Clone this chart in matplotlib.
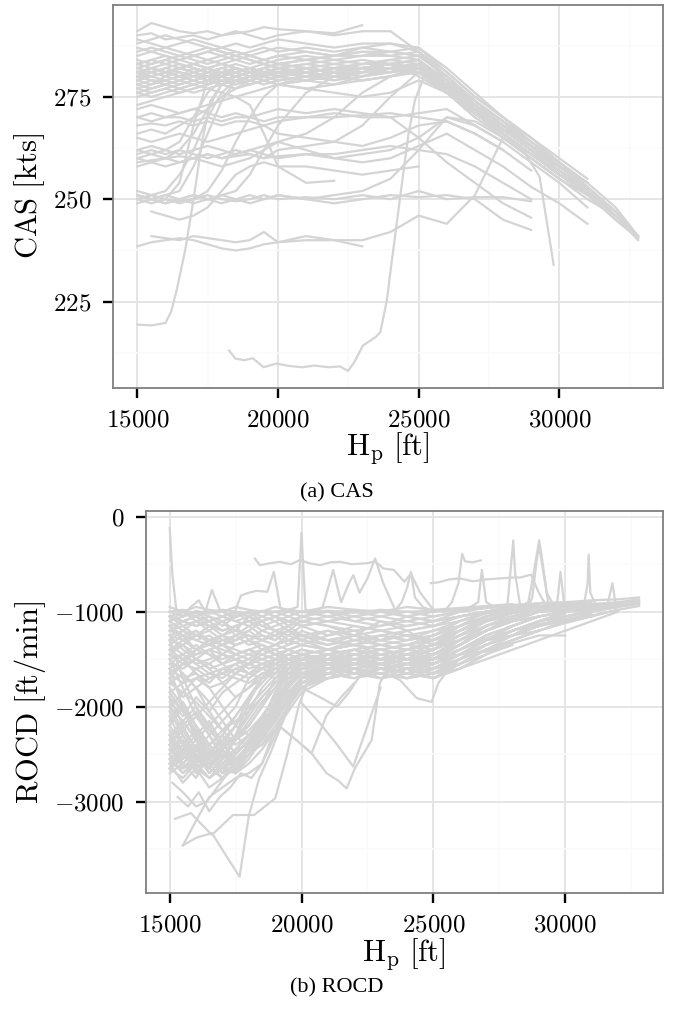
import numpy as np
import matplotlib
matplotlib.use('Agg')
import matplotlib.pyplot as plt
from matplotlib.ticker import FixedLocator, FuncFormatter

plt.rcParams['mathtext.fontset'] = 'cm'
plt.rcParams['font.family'] = ['Liberation Serif', 'DejaVu Serif']

n = np.nan

# altitude grid shared by most trajectories [ft]
HP_GRID = [15000, 15500, 16000, 16500, 17000, 17500, 18000, 18500, 19000, 19500,
           20000, 21000, 22000, 23000, 24000, 25000, 26000, 27000, 28000, 29000,
           30000, 31000, 32000, 32800]

# ---- CAS [kts] on HP_GRID ----
CAS_BAND = [
    [279, 280, 281, 280, 279, 280, 281, 280, 279, 280, 281, 280, 279, 281, 282, 281, 277, 271, 266, 261, 256, 251, 245, 240.5],
    [281, 282, 281, 282, 283, 282, 281, 282, 281, 282, 283, 282, 283, 284, 283, 282, 276, 270, 265, 260, 255, 250, 246, 241],
    [278, 279, 279, 278, 279, 280, 279, 278, 280, 279, 278, 279, 280, 281, 281, 283, 278, 272, 267, 262, 257, 252],
    [280, 281, 280, 279, 281, 282, 280, 281, 282, 281, 280, 281, 282, 282, 283, 280, 276, 271, 265, 260, 255, 251],
    [283, 284, 283, 284, 285, 284, 283, 284, 285, 284, 283, 284, 285, 285, 285, 284, 278, 273, 268, 262, 257, 253],
    [277, 278, 279, 280, 279, 278, 280, 279, 278, 279, 280, 279, 278, 280, 281, 282, 279, 273, 267, 262, 256, 252.5],
    [279, 278, 280, 281, 280, 279, 281, 280, 279, 281, 280, 279, 281, 282, 282, 283, 277, 272, 266, 261, 256],
    [282, 281, 282, 283, 282, 281, 282, 283, 282, 281, 282, 283, 282, 281, 282, 281, 277, 272, 267, 262, 258],
    [276, 277, 278, 277, 278, 279, 278, 277, 278, 279, 278, 277, 278, 279, 280, 281, 278, 273, 268, 263, 259, 254],
    [285, 286, 285, 284, 285, 286, 285, 286, 285, 284, 285, 286, 285, 286, 285, 286, 281, 275, 270, 265, 259],
    [281, 280, 281, 282, 281, 280, 281, 282, 281, 280, 281, 282, 281, 282, 283, 282, 277, 271, 266, 261, 256],
    [279, 280, 279, 280, 281, 280, 279, 280, 281, 280, 279, 280, 281, 282, 283, 284, 278, 272, 267, 263, 258, 253],
    [280, 279, 278, 279, 280, 281, 282, 281, 280, 279, 280, 281, 280, 279, 280, 281, 276, 271, 266, 261, 257, 252, 246],
    [282, 283, 284, 283, 282, 281, 280, 281, 282, 283, 282, 281, 282, 283, 284, 283, 279, 274, 268, 263, 258, 253, 247, 241],
    [278, 277, 278, 279, 278, 277, 278, 279, 280, 279, 278, 279, 280, 279, 280, 282, 278, 272, 267, 262],
    [283, 282, 281, 282, 283, 282, 283, 282, 281, 282, 283, 282, 281, 282, 283, 284, 279, 273, 268, 263, 257, 252, 246, 240],
    [280, 281, 282, 281, 280, 281, 280, 281, 282, 281, 282, 281, 280, 281, 282, 283, 277, 271],
    [284, 283, 284, 285, 284, 283, 284, 285, 284, 283, 284, 285, 284, 283, 284, 285, 280, 274, 269, 264, 258, 254, 248, 241],
    [277, 276, 277, 278, 279, 280, 279, 280, 279, 278, 279, 280, 279, 280, 281, 282, 278, 272, 267, 262, 257, 252.5],
    [281, 282, 283, 282, 281, 282, 283, 282, 281, 282, 283, 284, 283, 282, 283, 284, 279, 273, 268],
    [279, 281, 280, 282, 281, 279, 280, 282, 281, 279, 280, 282, 281, 280, 282, 281, 277, 271, 266, 261, 256, 252, 246, 240.5],
    [283, 284, 285, 284, 283, 284, 285, 284, 283, 284, 285, 284, 285, 286, 286, 285, 280, 274, 269, 263, 258],
    [280, 282, 281, 280, 282, 281, 280, 282, 281, 280, 282, 281, 280, 282, 281, 282, 278, 272, 267],
    [276, 275, 276, 277, 278, 279, 280, 281, 280, 281, 280, 281, 280, 281, 282, 283, 279, 273, 268, 263, 258, 253, 247],
]
CAS_UPPER = [
    [291, 293, 292, 291, 290.5, 291, 290, 290.5, 291, 292, 291.5, 291, 290.5, 292.5],
    [290, 290.5, 289, 289.5, 290, 289, 290, 291, 290, 289, 290, 291, 290, 291, 291, 286, 279, 273, 268, 263, 258],
    [289, 288, 287, 288, 289, 288, 287, 288, 287, 288, 289, 288, 287, 288, 288, 287, 281, 275, 270, 264, 259, 254],
    [286, 287, 286, 285, 286, 287, 286, 285, 286, 287, 286, 287, 286, 287, 286, 285, 280, 274, 269, 263, 258, 253, 247, 241],
    [287, 286, 287, 286, 285, 286, 287, 286, 285, 286, 287, 286, 285, 287, 288, 286, 280, 274, 269, 264, 259, 253, 246],
    [288, 289, 290, 289, 288, 287, 286, 285, 284, 283, 282, 283, 284, 285, 286, 287, 282, 276, 270, 265, 260, 255],
]
CAS_MID = [
    [275, 276, 277, 276, 277, 278, 279, 278, 279, 280, 279, 280, 281, 282, 282, 281, 276, 270],
    [273, 274, 275, 276, 277, 278, 279, 280, 281, 280, 281, 282, 281, 282, 283, 282, 277, 272, 267, 262],
    [270, 269, 270, 270, 269, 270, 269, 270, 270, 269, 270, 270, 271, 270, 270, 271, 272, 268, 264],
    [268, 268.5, 268, 269, 268, 269, 268, 269, 269, 268, 269, 270, 270, 270.5, 271, 270, 269, 266, 262],
    [266, 267, 266, 268, 270, 272, 275, 277, 279, 280, 281, 280, 281, 282, 283, 282, 277, 271, 266],
    [272, 273, 272, 271, 272, 273, 274, 275, 276, 277, 278, 277, 276, 275, 276, 279, 276, 271, 266, 261, 256, 251.5, 245, 240.5],
    [265, 264, 265, 266, 265, 264, 265, 266, 267, 268, 266, 265, 264, 263, 265, 268, 269, 266, 262, 257],
    [278, 277, 278, 277, 276, 277, 276, 275, 273, 266, 258, 254, 254.5],
    [270, 271, 270, 271, 272, 271, 270, 271, 270, 271, 272, 271, 272, 271, 270, 265, 259, 254, 249, 245.5],
    [262, 261, 262, 264, 270, 276, 279, 280, 281, 280, 279, 280, 281, 280, 281, 282, 277, 271, 266, 261],
]
CAS_260 = [
    [260, 261, 260, 260.5, 260, 261, 260, 260.5, 261, 260, 260.5, 261, 261, 262, 263, 262, 261, 258, 254, 250],
    [259, 259.5, 260, 259, 260, 261, 260, 261, 262, 261, 260, 261, 260, 261, 262, 265, 270, 269, 265, 261, 256],
    [261, 262, 261, 262, 261, 260, 261, 262, 261, 260, 262, 263, 264, 268, 275, 281, 277, 272, 267],
    [260, 259, 260, 262, 266, 272, 278, 280, 281, 280, 281, 282, 281, 282, 282, 283, 278],
    [262, 263, 262, 261, 262, 263, 262, 261, 262, 263, 264, 266, 270, 276, 280, 282, 277, 272, 266, 261, 256, 252],
    [258, 259, 258, 259, 260, 259, 258, 259, 260, 262, 264, 262, 260, 259, 260, 263, 266, 262, 258, 253, 249, 244],
]
CAS_250 = [
    [250, 251, 250, 249.5, 250, 251, 250, 249.5, 250, 251, 250, 250.5, 250, 251, 250, 252, 250, 250.5, 250.5, 249.5],
    [251, 250, 251, 250, 249, 250, 251, 250, 251, 250, 251, 250, 249, 250, 251, 250.5, 251, 250, 245, 242.5],
    [249, 250, 249, 250, 251, 250, 249, 250, 249, 250, 251, 250, 251, 252, 255, 262, 270, 268, 264, 259, 254, 248],
    [252, 251, 252, 256, 262, 270, 276, 279, 280, 281, 280, 281, 282, 283, 283, 282, 278, 272],
    [250, 249, 250, 249, 250, 252, 257, 264, 270, 275, 278, 280, 281, 282, 282, 283, 277],
    [251, 250, 249, 250, 251, 250, 251, 252, 256, 262, 268, 276, 280, 281, 282, 281, 276],
    [250, 251, 250, 254, 268, 279, 281, 280, 281, 282, 281, 280, 281, 282, 283, 282, 278, 272, 266, 261],
    [251, 250, 251, 252, 258, 266, 274, 279, 280, 281, 280, 281, 282, 281, 282, 283, 278, 272],
]
CAS_LOW = [
    [n, 247, 246, 245, 246, 248, 252, 256, 258, 259, 258, 258, 257, 256, 257, 258],
    [n, 241, 240.5, 240, 241, 240.5, 240, 239.5, 240, 242, 239.5, 241, 240, 238.5],
    [238.5, 239.5, 240, 240.5, 240, 239, 238, 237.5, 238, 239, 239.5, 240, 240, 240, 242, 246, 244, 251, 265, 260, 255],
]

# CAS trajectories with their own altitude samples
CAS_RAMP_219_HP = [15000, 15500, 16000, 16200, 16400, 16700, 17000, 17300, 17600, 18000, 18500, 19000, 20000, 21000]
CAS_RAMP_219 = [219.4, 219.2, 219.8, 222.5, 227.8, 237.5, 250, 264, 274, 278, 280, 281, 280, 281]
CAS_RAMP_210_HP = [18260, 18490, 18800, 19100, 19490, 19950, 20400, 20870, 21300, 21800, 22200, 22490,
                   22720, 23020, 23480, 23640, 23870, 24020, 24330, 24640, 24870, 25200, 26000, 27000, 28000]
CAS_RAMP_210 = [213.1, 211.1, 210.7, 211.2, 209.0, 209.9, 209.3, 209.0, 209.4, 209.0, 209.2, 208.1,
                210.3, 214.3, 216.4, 217.6, 225.3, 233.5, 249.8, 266.0, 274.2, 280, 277, 271, 266]
CAS_DROP_234_HP = [25000, 26000, 27000, 28000, 28800, 29300, 29800]
CAS_DROP_234 = [283, 278, 272, 266, 261, 255.5, 234]

# ---- ROCD [ft/min] on HP_GRID ----
ROCD_LOW = [
    [-2600, -2650, -2500, -2700, -2550, -2300, -1950, -1700, -1550, -1500, -1450, -1500, -1450, -1500, -1400, -1350, -1150, -1050, -980],
    [-2500, -2350, -2600, -2450, -2650, -2450, -2400, -2150, -1850, -1600, -1500, -1450, -1550, -1500, -1450, -1400, -1200, -1050],
    [-2300, -2550, -2400, -2650, -2450, -2700, -2350, -2250, -2050, -1800, -1650, -1550, -1500, -1600, -1550, -1500, -1350, -1150, -1050, -1000, -950],
    [-2650, -2450, -2700, -2550, -2400, -2200, -1900, -1700, -1550, -1600, -1500, -1550, -1450, -1500, -1550, -1450, -1300],
    [-2100, -2400, -2250, -2500, -2350, -2600, -2400, -2250, -2100, -1900, -1750, -1600, -1550, -1500, -1450, -1500, -1350, -1200, -1100, -1050, -1000, -980, -950, -900],
    [-1900, -2200, -2050, -2300, -2150, -2000, -1700, -1600, -1500, -1550, -1450, -1500, -1400, -1450, -1500, -1400, -1250, -1100, -1000, -950],
    [-2550, -2700, -2600, -2750, -2650, -2550, -2450, -2300, -2100, -1900, -1750, -1650, -1600, -1650, -1600, -1550, -1400],
    [-2400, -2200, -2450, -2300, -2550, -2350, -2200, -2000, -1700, -1550, -1500, -1450, -1500, -1550, -1450, -1500, -1350, -1200, -1080, -1000, -970, -950],
    [-2200, -2000, -2300, -2150, -2400, -2300, -2450, -2200, -2000, -1750, -1600, -1550, -1500, -1450, -1500, -1450, -1300, -1150],
    [-2650, -2550, -2400, -2600, -2500, -2650, -2400, -2250, -2050, -1850, -1700, -1500, -1550, -1500, -1600, -1550, -1450, -1350, -1250, -1100, -1000, -950, -920, -880],
    [-2000, -2150, -2350, -2200, -2450, -2300, -2100, -1900, -1750, -1600, -1550, -1600, -1500, -1550, -1500, -1600, -1500, -1400, -1300, -1200, -1100],
    [-2450, -2600, -2450, -2550, -2700, -2500, -2350, -2150, -1850, -1650, -1550, -1500, -1450, -1500, -1450, -1400, -1250, -1100, -1000],
    [-1800, -2000, -2200, -2400, -2300, -2500, -2350, -2300, -2100, -1900, -1700, -1550, -1600, -1550, -1500, -1550, -1450, -1300, -1200, -1100, -1050, -1000, -950],
    [-2600, -2800, -2650, -2850, -2750, -2600, -2450, -2250, -2000, -1800, -1600, -1500, -1500, -1450, -1500, -1550, -1400],
    [-2350, -2150, -2000, -2200, -2050, -1900, -1800, -1650, -1600, -1500, -1550, -1450, -1500, -1450, -1400, -1450, -1300, -1150, -1050, -1000, -980],
    [-2500, -2300, -2550, -2650, -2750, -2650, -2400, -2300, -2050, -1850, -1750, -1700, -1650, -1650, -1600, -1700, -1550, -1400, -1300],
    [-1500, -1800, -2100, -2300, -2500, -2600, -2400, -2200, -1950, -1700, -1550, -1500, -1450, -1500, -1550, -1500, -1350, -1200],
    [-2650, -2500, -2650, -2750, -2600, -2450, -2300, -2200, -2100, -1950, -1750, -1650, -1550, -1500, -1550, -1500, -1400, -1250, -1150, -1050, -1000, -950],
    [-1700, -1900, -1800, -2050, -2250, -2400, -2300, -2250, -2050, -1850, -1700, -1600, -1500, -1550, -1600, -1500, -1300],
    [-2250, -2500, -2350, -2600, -2450, -2300, -2050, -1800, -1650, -1500, -1450, -1400, -1450, -1400, -1450, -1400, -1250, -1100, -1000],
    [-2550, -2400, -2600, -2450, -2700, -2600, -2450, -2250, -2000, -1800, -1650, -1600, -1550, -1600, -1650, -1600, -1450],
    [-1600, -2000, -2350, -2500, -2650, -2500, -2350, -2100, -1900, -1650, -1500, -1450, -1400, -1450, -1400, -1350, -1200, -1080, -1000, -960],
    [-2400, -2650, -2550, -2400, -2250, -2100, -1900, -1750, -1600, -1550, -1500, -1550, -1600, -1550, -1500, -1550, -1400, -1250, -1150],
    [-1300, -1700, -2000, -2250, -2400, -2300, -2200, -2000, -1800, -1600, -1450, -1400, -1350, -1400, -1350, -1300, -1150, -1000],
]
ROCD_MID = [
    [-1500, -1450, -1550, -1500, -1450, -1500, -1450, -1500, -1550, -1450, -1500, -1450, -1500, -1450, -1500, -1450, -1300, -1150, -1050, -1000],
    [-1600, -1700, -1650, -1750, -1600, -1650, -1550, -1600, -1500, -1550, -1600, -1500, -1550, -1600, -1550, -1600, -1450, -1300, -1150, -1050, -1000, -950],
    [-1400, -1350, -1450, -1400, -1350, -1400, -1450, -1400, -1350, -1400, -1450, -1400, -1350, -1400, -1450, -1350, -1200, -1050],
    [-1750, -1650, -1800, -1700, -1650, -1700, -1750, -1650, -1700, -1650, -1700, -1650, -1700, -1650, -1700, -1650, -1500, -1350, -1250, -1150, -1050, -1000, -950, -920],
    [-1300, -1350, -1250, -1300, -1350, -1300, -1250, -1300, -1350, -1300, -1250, -1300, -1350, -1300, -1250, -1300, -1150, -1050, -980],
    [-1550, -1600, -1500, -1550, -1450, -1500, -1550, -1500, -1450, -1500, -1550, -1500, -1550, -1500, -1450, -1500, -1350, -1200, -1100, -1000, -960],
    [-1450, -1500, -1400, -1450, -1500, -1450, -1400, -1450, -1500, -1450, -1400, -1450, -1500, -1550, -1500, -1450, -1300, -1150, -1080],
    [-1650, -1550, -1600, -1550, -1650, -1600, -1550, -1600, -1650, -1600, -1550, -1600, -1650, -1600, -1650, -1600, -1500, -1400, -1300, -1200, -1120, -1050],
    [-1200, -1250, -1300, -1350, -1400, -1450, -1400, -1450, -1500, -1450, -1400, -1450, -1400, -1450, -1500, -1400, -1250],
    [-1850, -1750, -1700, -1650, -1700, -1600, -1650, -1600, -1550, -1600, -1550, -1600, -1550, -1600, -1550, -1500, -1350, -1200, -1050, -1000, -970, -950],
    [-1350, -1450, -1550, -1650, -1600, -1550, -1500, -1550, -1600, -1550, -1500, -1550, -1500, -1550, -1600, -1550, -1400, -1280, -1200, -1130, -1080, -1040, -980, -940],
    [-1600, -1500, -1450, -1400, -1450, -1500, -1550, -1500, -1450, -1400, -1450, -1500, -1450, -1400, -1450, -1500, -1400, -1300, -1250, -1200],
    [-1450, -1550, -1500, -1600, -1550, -1500, -1600, -1550, -1500, -1550, -1600, -1550, -1500, -1550, -1500, -1500, -1450, -1420, -1330, -1250, -1250],
    [-1250, -1300, -1400, -1350, -1300, -1350, -1300, -1350, -1400, -1350, -1300, -1350, -1300, -1250, -1300, -1250, -1100, -1000, -960, -930],
]
ROCD_HIGH = [
    [-1000, -980, -1020, -1000, -980, -1000, -1020, -990, -1000, -980, -1000, -990, -1010, -980, -1000, -990, -970, -950, -940, -930],
    [-1100, -1050, -1000, -1050, -1100, -1050, -1000, -1050, -1100, -1050, -1000, -1050, -1100, -1050, -1000, -1050, -1000, -960, -950, -940, -920, -900],
    [-1200, -1150, -1100, -1150, -1200, -1150, -1100, -1150, -1200, -1150, -1100, -1150, -1200, -1150, -1100, -1150, -1050, -1000, -960],
    [-1250, -1200, -1250, -1300, -1250, -1200, -1250, -1300, -1250, -1200, -1250, -1300, -1250, -1200, -1250, -1200, -1100, -1020, -980, -960, -950, -930, -920, -900],
    [-1050, -1000, -1050, -1100, -1050, -1000, -1050, -1100, -1050, -1000, -1050, -1100, -1050, -1000, -1050, -1000, -980, -960],
    [-1150, -1100, -1150, -1100, -1050, -1100, -1150, -1100, -1050, -1100, -1150, -1100, -1050, -1100, -1150, -1100, -1050, -1000, -950, -940, -930, -920, -900, -870],
    [-950, -1000, -950, -980, -1000, -950, -980, -1000, -950, -980, -1000, -950, -980, -1000, -950, -980, -960, -940, -920],
]
ROCD_EXTRA = [
    [-2450, -2300, -2500, -2700, -2550, -2350, -2150, -1950, -1800, -1700, -1650, -1700, -1600, -1650, -1700, -1650, -1600, -1450, -1300, -1200],
    [-1350, -1250, -1400, -1300, -1450, -1350, -1300, -1400, -1350, -1250, -1300, -1400, -1350, -1450, -1400, -1300, -1200, -1100, -1050, -1000, -980],
    [-2700, -2600, -2750, -2500, -2650, -2700, -2550, -2350, -2150, -1950, -1750, -1650, -1700, -1600, -1650, -1700, -1550],
    [-1150, -1250, -1200, -1300, -1250, -1350, -1300, -1250, -1300, -1200, -1250, -1200, -1300, -1250, -1200, -1150, -1050, -1000, -970],
    [-2050, -2300, -2500, -2650, -2500, -2700, -2500, -2400, -2200, -2000, -1800, -1650, -1600, -1650, -1700, -1600, -1450, -1300, -1150, -1050, -1000, -960, -940, -920],
    [-1650, -1750, -1600, -1700, -1650, -1550, -1650, -1700, -1600, -1650, -1700, -1650, -1600, -1700, -1650, -1700, -1600, -1450, -1350],
    [-2150, -1950, -2200, -2400, -2600, -2450, -2300, -2100, -1900, -1750, -1600, -1550, -1650, -1600, -1550, -1600, -1500, -1350, -1200, -1100, -1050, -1000],
    [-1050, -1100, -1150, -1100, -1200, -1150, -1100, -1200, -1150, -1100, -1150, -1100, -1150, -1200, -1150, -1100, -1000, -950],
    [-2600, -2450, -2300, -2500, -2650, -2550, -2400, -2350, -2250, -2050, -1850, -1700, -1650, -1700, -1650, -1600, -1500, -1350, -1250, -1150, -1080, -1020],
    [-1450, -1350, -1500, -1400, -1550, -1450, -1500, -1400, -1450, -1550, -1500, -1450, -1400, -1500, -1450, -1400, -1300, -1150, -1050, -1000],
    [-2350, -2600, -2450, -2650, -2400, -2550, -2450, -2200, -1950, -1750, -1650, -1600, -1650, -1550, -1600, -1650, -1500, -1350],
    [-1250, -1400, -1500, -1600, -1750, -1900, -1800, -1700, -1650, -1600, -1550, -1500, -1600, -1550, -1650, -1550, -1450, -1300, -1200, -1100, -1050, -980, -950],
    [-2200, -2400, -2600, -2750, -2650, -2500, -2350, -2150, -2000, -1850, -1700, -1550, -1500, -1600, -1550, -1500, -1400, -1250, -1150, -1050],
    [-1550, -1450, -1350, -1450, -1550, -1650, -1550, -1450, -1400, -1500, -1450, -1550, -1600, -1500, -1450, -1550, -1450, -1350, -1250, -1150, -1050],
    [-2500, -2700, -2550, -2650, -2450, -2600, -2500, -2300, -2150, -1950, -1750, -1600, -1550, -1600, -1650, -1550, -1450],
    [-1750, -1850, -1950, -2100, -2250, -2150, -2050, -1900, -1750, -1650, -1600, -1650, -1550, -1600, -1650, -1600, -1550, -1400, -1250, -1150, -1100, -1050, -980],
    [-2000, -1850, -1700, -1800, -1750, -1650, -1700, -1600, -1550, -1650, -1600, -1550, -1650, -1600, -1550, -1650, -1550, -1450],
    [-1100, -1200, -1300, -1250, -1350, -1450, -1400, -1350, -1450, -1400, -1350, -1400, -1450, -1400, -1350, -1400, -1250, -1100, -1000, -950],
    [-2300, -2150, -2350, -2550, -2700, -2650, -2500, -2350, -2100, -1900, -1700, -1600, -1500, -1550, -1500, -1450, -1350, -1200, -1100, -1000, -950, -930],
    [-1950, -2100, -1900, -2050, -1850, -1750, -1650, -1550, -1500, -1450, -1500, -1450, -1550, -1450, -1500, -1450, -1350, -1200, -1080],
    [-1000, -1050, -1000, -1100, -1050, -1000, -1100, -1050, -1000, -1050, -1100, -1050, -1000, -1050, -1100, -1050, -1000, -960, -930, -910, -900, -880, -870, -850],
    [-2650, -2750, -2600, -2500, -2350, -2200, -2000, -1850, -1700, -1600, -1550, -1650, -1600, -1650, -1600, -1700, -1600, -1500, -1400, -1300, -1200, -1100, -1000],
    [-1400, -1500, -1650, -1800, -2000, -2200, -2300, -2200, -2000, -1800, -1650, -1550, -1500, -1450, -1500, -1550, -1400, -1250],
    [-1850, -2050, -2250, -2450, -2600, -2700, -2600, -2450, -2250, -2000, -1800, -1650, -1600, -1550, -1600, -1650, -1500, -1350, -1200, -1100, -1020],
]
ROCD_FILL = [
    [-1150, -1300, -1200, -1350, -1250, -1150, -1300, -1200, -1250, -1350, -1200, -1300, -1250, -1350, -1300, -1250, -1150, -1050, -1000],
    [-1050, -1150, -1250, -1200, -1100, -1250, -1200, -1100, -1200, -1250, -1150, -1250, -1150, -1200, -1250, -1300, -1200, -1100, -1020, -980, -960],
    [-1300, -1200, -1100, -1200, -1300, -1250, -1150, -1250, -1300, -1200, -1300, -1200, -1250, -1300, -1350, -1250, -1150, -1050],
    [-1200, -1100, -1050, -1150, -1100, -1200, -1050, -1150, -1100, -1200, -1100, -1150, -1250, -1100, -1200, -1150, -1100, -1000, -960, -940],
    [-1400, -1300, -1250, -1150, -1250, -1300, -1200, -1300, -1250, -1150, -1250, -1350, -1250, -1300, -1200, -1350, -1250, -1150, -1050, -1000, -970],
    [-1100, -1000, -1100, -1050, -1150, -1050, -1000, -1100, -1050, -1150, -1050, -1000, -1100, -1150, -1050, -1100, -1050, -1000, -950],
    [-1700, -1550, -1400, -1300, -1350, -1250, -1350, -1300, -1200, -1300, -1350, -1250, -1200, -1300, -1250, -1350, -1300, -1200, -1100, -1050, -1000, -960],
    [-2400, -2250, -2100, -1950, -1800, -1650, -1550, -1400, -1350, -1300, -1250, -1300, -1350, -1250, -1300, -1200, -1150, -1050],
    [-2550, -2450, -2650, -2500, -2300, -2100, -1900, -1700, -1500, -1400, -1350, -1400, -1300, -1350, -1400, -1300, -1200, -1100, -1000],
    [-1900, -2050, -2250, -2400, -2550, -2450, -2300, -2150, -2000, -1800, -1600, -1450, -1400, -1350, -1400, -1350, -1250, -1150, -1050, -1000, -950],
    [-2300, -2450, -2650, -2550, -2450, -2650, -2500, -2350, -2150, -1950, -1700, -1550, -1450, -1500, -1450, -1500, -1350],
    [-2000, -2250, -2450, -2600, -2750, -2600, -2450, -2300, -2150, -1950, -1800, -1700, -1650, -1700, -1600, -1650, -1550, -1400, -1300, -1200],
    [-1050, -1100, -1050, -1000, -1050, -1100, -1050, -1000, -1050, -1100, -1050, -1000, -1050, -1000, -1050, -1100, -1050, -1000, -960, -940, -920],
    [-1500, -1650, -1800, -1950, -2150, -2350, -2250, -2100, -1950, -1750, -1550, -1500, -1450, -1500, -1550, -1450, -1350, -1200],
]

# ROCD trajectories (spikes, outliers) with their own altitude samples
ROCD_SPIKE_15000_HP = [15000, 15100, 15250, 15500, 16000, 16500, 17000, 17500, 18000]
ROCD_SPIKE_15000 = [-120, -600, -980, -1050, -990, -1020, -1000, -1060, -1000]
ROCD_TOP_LEFT_HP = [15500, 15800, 16100, 16350, 16600, 16900, 17300, 17700]
ROCD_TOP_LEFT = [-1050, -950, -880, -1000, -770, -980, -1050, -1000]
ROCD_800_HP = [17500, 17700, 18000, 18300, 18700, 18950, 19200, 19600]
ROCD_800 = [-980, -830, -800, -780, -790, -580, -960, -1000]
ROCD_500_HP = [18230, 18420, 18800, 19180, 19600, 19940, 20300, 20700, 21100, 21460,
               21900, 22470, 22800, 23100, 23500, 23900, 24150, 24500, 25000]
ROCD_500 = [-440, -510, -490, -475, -500, -455, -490, -510, -480, -475,
            -500, -490, -470, -545, -560, -685, -600, -800, -980]
ROCD_SPIKE_20000_HP = [19000, 19500, 19850, 20000, 20150, 20500, 21000, 21500, 22000]
ROCD_SPIKE_20000 = [-1000, -980, -950, -170, -980, -1020, -990, -1000, -980]
ROCD_SPIKE_21000_HP = [20500, 20800, 21200, 21500, 21800, 21960, 22200, 22500, 22790, 23100, 23500]
ROCD_SPIKE_21000 = [-1000, -950, -560, -900, -700, -615, -800, -650, -440, -700, -950]
ROCD_SPIKE_24000_HP = [23500, 23800, 24000, 24150, 24300, 24600, 25000]
ROCD_SPIKE_24000 = [-1000, -900, -750, -580, -850, -950, -1000]
ROCD_SPIKE_26000_HP = [25400, 25700, 25950, 26090, 26200, 26500, 26800]
ROCD_SPIKE_26000 = [-1000, -900, -700, -390, -470, -480, -460]
ROCD_650_HP = [24900, 25200, 25600, 26000, 26500, 27000, 27500, 28000, 28300, 28700, 29000, 29300]
ROCD_650 = [-700, -690, -660, -650, -680, -660, -650, -640, -640, -610, -800, -950]
ROCD_SPIKE_26800_HP = [26400, 26700, 26840, 27000, 27300]
ROCD_SPIKE_26800 = [-950, -900, -560, -900, -950]
ROCD_SPIKE_28000_HP = [27000, 27500, 27800, 27950, 28030, 28100, 28300, 28600]
ROCD_SPIKE_28000 = [-1000, -980, -950, -500, -250, -600, -950, -980]
ROCD_SPIKE_29000A_HP = [28300, 28600, 28800, 28950, 29010, 29100, 29300, 29600]
ROCD_SPIKE_29000A = [-950, -900, -600, -350, -250, -400, -800, -950]
ROCD_SPIKE_29000B_HP = [28500, 28750, 28900, 29000, 29150, 29400]
ROCD_SPIKE_29000B = [-1000, -850, -500, -300, -550, -980]
ROCD_SPIKE_29800_HP = [29400, 29700, 29820, 29950, 30200]
ROCD_SPIKE_29800 = [-950, -900, -580, -900, -960]
ROCD_SPIKE_30900_HP = [30400, 30700, 30850, 30890, 30950, 31200, 31500]
ROCD_SPIKE_30900 = [-980, -950, -700, -400, -800, -950, -970]
ROCD_SPIKE_31800_HP = [31300, 31600, 31790, 31900, 32200]
ROCD_SPIKE_31800 = [-950, -930, -700, -900, -940]
ROCD_DIP_HP = [15500, 16000, 16600, 17100, 17650, 18000, 18400, 18800, 19300, 19800]
ROCD_DIP = [-3460, -3380, -3330, -3550, -3790, -3150, -2750, -2500, -2150, -1800]
ROCD_DEEP_A_HP = [15200, 15800, 16600, 17400, 18200, 19000, 19430, 19900, 20300]
ROCD_DEEP_A = [-3180, -3120, -3350, -3140, -3140, -2965, -2530, -1980, -1700]
ROCD_DEEP_B_HP = [15500, 16000, 16500, 17000, 17500, 18000, 18500, 19000, 19500, 20000]
ROCD_DEEP_B = [-3460, -3200, -2950, -2850, -2750, -2700, -2600, -2300, -2000, -1700]
ROCD_DEEP_C_HP = [15100, 15500, 16000, 16400, 16800, 17200, 17600]
ROCD_DEEP_C = [-2800, -2900, -3050, -3000, -2850, -2700, -2550]
ROCD_DEEP_D_HP = [15300, 15700, 16100, 16500, 16900, 17300, 17700, 18100, 18500, 18900]
ROCD_DEEP_D = [-2950, -3050, -2900, -3100, -2950, -2850, -2700, -2750, -2600, -2300]
ROCD_DEEP_E_HP = [19180, 19800, 20380, 20950, 21400, 21710, 22020, 22660, 22970, 23300]
ROCD_DEEP_E = [-2210, -2350, -2490, -2700, -2780, -2860, -2650, -2350, -1750, -1600]
ROCD_DEEP_F_HP = [19500, 20000, 20700, 21350, 21800, 22200, 22600]
ROCD_DEEP_F = [-1900, -1800, -1900, -2000, -1850, -1680, -1650]
ROCD_DEEP_G_HP = [23200, 23735, 24370, 24935, 25190, 25600, 26000]
ROCD_DEEP_G = [-1650, -1720, -1910, -1950, -1750, -1600, -1500]
ROCD_DEEP_H_HP = [18500, 19180, 19800, 20380, 20950, 21500, 22000]
ROCD_DEEP_H = [-2400, -2210, -2350, -2490, -2090, -1900, -1750]
ROCD_DEEP_I_HP = [20000, 20700, 21350, 21960, 22500, 23000]
ROCD_DEEP_I = [-1960, -2175, -2400, -2630, -2200, -1800]

X_TICKS = [15000, 20000, 25000, 30000]
X_MINOR = [17500, 22500, 27500, 32500]

LINE_COLOR = '#d4d4d4'
LINE_WIDTH = 1.6


def on_grid(values):
    # pad a trajectory to the length of HP_GRID (missing points -> nan)
    out = np.full(len(HP_GRID), np.nan)
    out[:len(values)] = values
    return out


def draw_grid_traces(ax, groups):
    for group in groups:
        for values in group:
            ax.plot(HP_GRID, on_grid(values), color=LINE_COLOR, lw=LINE_WIDTH,
                    solid_joinstyle='round')


def draw_free_traces(ax, pairs):
    for hp, values in pairs:
        ax.plot(hp, values, color=LINE_COLOR, lw=LINE_WIDTH, solid_joinstyle='round')


def style_axes(ax, xlim, ylim, yticks, yminor, ylabel):
    ax.set_xlim(xlim)
    ax.set_ylim(ylim)
    ax.xaxis.set_major_locator(FixedLocator(X_TICKS))
    ax.xaxis.set_minor_locator(FixedLocator(X_MINOR))
    ax.yaxis.set_major_locator(FixedLocator(yticks))
    ax.yaxis.set_minor_locator(FixedLocator(yminor))
    fmt = FuncFormatter(lambda v, p: '$%d$' % v)
    ax.xaxis.set_major_formatter(fmt)
    ax.yaxis.set_major_formatter(fmt)

    # ggplot theme_bw look
    ax.set_axisbelow(True)
    ax.grid(which='minor', color='#fafafa', lw=1.1)
    ax.grid(which='major', color='#e5e5e5', lw=1.4)
    for spine in ax.spines.values():
        spine.set_color('#7f7f7f')
        spine.set_linewidth(1.3)
    ax.tick_params(which='major', length=7.5, width=1.7, color='black',
                   labelsize=18, labelcolor='black')
    ax.tick_params(axis='x', which='major', pad=8)
    ax.tick_params(axis='y', which='major', pad=8)
    ax.tick_params(which='minor', length=0)

    ax.set_xlabel(r'$\mathrm{H_p\ [ft]}$', fontsize=22, labelpad=0)
    ax.set_ylabel(ylabel, fontsize=22, labelpad=4)


fig = plt.figure(figsize=(6.78, 10.17), dpi=100)

# (a) CAS
ax1 = fig.add_axes([113 / 678, 1 - 387.7 / 1017, 549.7 / 678, 382.7 / 1017])
draw_grid_traces(ax1, [CAS_BAND, CAS_UPPER, CAS_MID, CAS_260, CAS_250, CAS_LOW])
draw_free_traces(ax1, [(CAS_RAMP_219_HP, CAS_RAMP_219),
                       (CAS_RAMP_210_HP, CAS_RAMP_210),
                       (CAS_DROP_234_HP, CAS_DROP_234)])
style_axes(ax1, (14136, 33676), (204.0, 297.4), [225, 250, 275],
           [212.5, 237.5, 262.5, 287.5], r'$\mathrm{CAS\ [kts]}$')

# (b) ROCD
ax2 = fig.add_axes([145.7 / 678, 1 - 893.3 / 1017, 517 / 678, 382.3 / 1017])
draw_grid_traces(ax2, [ROCD_LOW, ROCD_MID, ROCD_HIGH, ROCD_EXTRA, ROCD_FILL])
draw_free_traces(ax2, [
    (ROCD_SPIKE_15000_HP, ROCD_SPIKE_15000), (ROCD_TOP_LEFT_HP, ROCD_TOP_LEFT),
    (ROCD_800_HP, ROCD_800), (ROCD_500_HP, ROCD_500),
    (ROCD_SPIKE_20000_HP, ROCD_SPIKE_20000), (ROCD_SPIKE_21000_HP, ROCD_SPIKE_21000),
    (ROCD_SPIKE_24000_HP, ROCD_SPIKE_24000), (ROCD_SPIKE_26000_HP, ROCD_SPIKE_26000),
    (ROCD_650_HP, ROCD_650), (ROCD_SPIKE_26800_HP, ROCD_SPIKE_26800),
    (ROCD_SPIKE_28000_HP, ROCD_SPIKE_28000), (ROCD_SPIKE_29000A_HP, ROCD_SPIKE_29000A),
    (ROCD_SPIKE_29000B_HP, ROCD_SPIKE_29000B), (ROCD_SPIKE_29800_HP, ROCD_SPIKE_29800),
    (ROCD_SPIKE_30900_HP, ROCD_SPIKE_30900), (ROCD_SPIKE_31800_HP, ROCD_SPIKE_31800),
    (ROCD_DIP_HP, ROCD_DIP), (ROCD_DEEP_A_HP, ROCD_DEEP_A), (ROCD_DEEP_B_HP, ROCD_DEEP_B),
    (ROCD_DEEP_C_HP, ROCD_DEEP_C), (ROCD_DEEP_D_HP, ROCD_DEEP_D), (ROCD_DEEP_E_HP, ROCD_DEEP_E),
    (ROCD_DEEP_F_HP, ROCD_DEEP_F), (ROCD_DEEP_G_HP, ROCD_DEEP_G), (ROCD_DEEP_H_HP, ROCD_DEEP_H),
    (ROCD_DEEP_I_HP, ROCD_DEEP_I)])
style_axes(ax2, (14090, 33697), (-3964, 60), [0, -1000, -2000, -3000],
           [-500, -1500, -2500, -3500], r'$\mathrm{ROCD\ [ft/min]}$')

# sub-figure captions
fig.text(337 / 678, 1 - 493 / 1017, '(a) CAS', ha='center', va='center', fontsize=16)
fig.text(337 / 678, 1 - 988 / 1017, '(b) ROCD', ha='center', va='center', fontsize=16)

fig.savefig('out.png', dpi=100)
